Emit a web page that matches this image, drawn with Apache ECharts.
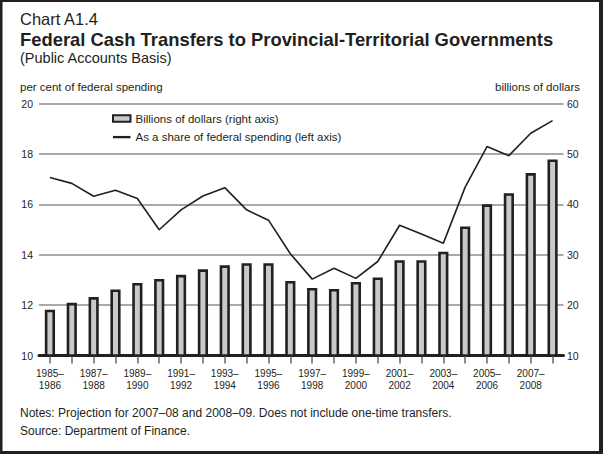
<!DOCTYPE html>
<html><head><meta charset="utf-8">
<script src="https://cdn.jsdelivr.net/npm/echarts@6/dist/echarts.min.js"></script>
<style>html,body{margin:0;padding:0;background:#fff}#c{width:603px;height:454px}</style>
</head><body><div id="c"></div>
<script>
const categories = ['1985–1986','1986–1987','1987–1988','1988–1989','1989–1990','1990–1991',
  '1991–1992','1992–1993','1993–1994','1994–1995','1995–1996','1996–1997',
  '1997–1998','1998–1999','1999–2000','2000–2001','2001–2002','2002–2003',
  '2003–2004','2004–2005','2005–2006','2006–2007','2007–2008','2008–2009'];
const billions = [19.1, 20.45, 21.6, 23.1, 24.4, 25.2, 26.0, 27.1, 27.9, 28.3, 28.3, 24.8,
  23.4, 23.2, 24.6, 25.5, 28.9, 28.9, 30.6, 35.6, 40.0, 42.2, 46.2, 48.9];
const sharePct = [17.06, 16.83, 16.32, 16.56, 16.23, 14.99, 15.78, 16.33, 16.66, 15.78, 15.37, 14.04,
  13.03, 13.46, 13.06, 13.73, 15.17, 14.82, 14.45, 16.68, 18.29, 17.93, 18.82, 19.32];
const leftTicks = [10, 12, 14, 16, 18, 20];
const rightTicks = [10, 20, 30, 40, 50, 60];
const barName = 'Billions of dollars (right axis)';
const lineName = 'As a share of federal spending (left axis)';

const INK = '#231f20';
const FONT = '"Liberation Sans", Arial, Helvetica, sans-serif';
const chart = echarts.init(document.getElementById('c'), null, {renderer: 'svg'});
function txt(x, y, text, size, opts) {
  return {type: 'text', x: x, y: y, silent: true,
    style: Object.assign({text: text, fill: INK, fontFamily: FONT, fontSize: size,
      verticalAlign: 'middle', align: 'left'}, (opts || {}))};
}
chart.setOption({
  animation: false,
  textStyle: {fontFamily: FONT, color: INK},
  grid: {left: 39, right: 39.5, top: 103.5, bottom: 98.5},
  legend: {
    orient: 'vertical', left: 112, top: 111.5, itemWidth: 17.5, itemHeight: 6.5, itemGap: 4.6,
    padding: 0,
    textStyle: {fontSize: 11.5, color: INK, fontFamily: FONT, lineHeight: 14},
    data: [
      {name: barName, icon: 'rect'},
      {name: lineName, icon: 'path://M0,0H18V2.4H0Z', itemStyle: {color: INK, borderWidth: 0}}
    ]
  },
  xAxis: {
    type: 'category', data: categories, boundaryGap: true,
    axisLine: {lineStyle: {color: INK, width: 3}},
    axisTick: {show: true, alignWithLabel: true, interval: 0, length: 8, lineStyle: {color: '#8c8c8c', width: 2}},
    axisLabel: {interval: 1, fontSize: 10, lineHeight: 12, margin: 12, color: INK,
      formatter: function (v) { return v.replace('–', '–\n'); }}
  },
  yAxis: [
    {type: 'value', position: 'left', min: leftTicks[0], max: leftTicks[leftTicks.length - 1], interval: 2,
      axisLine: {show: false}, axisTick: {show: false},
      splitLine: {show: true, lineStyle: {color: '#8c8c8c', width: 1.5}},
      axisLabel: {fontSize: 10.5, margin: 6, color: INK}},
    {type: 'value', position: 'right', min: rightTicks[0], max: rightTicks[rightTicks.length - 1], interval: 10,
      axisLine: {show: false}, axisTick: {show: false}, splitLine: {show: false},
      axisLabel: {fontSize: 10.5, margin: 3.5, color: INK}}
  ],
  series: [
    {name: barName, type: 'bar', yAxisIndex: 1, data: billions, barWidth: 10.2, clip: true,
      itemStyle: {color: '#c8c9ca', borderColor: INK, borderWidth: 2.6}},
    {name: lineName, type: 'line', yAxisIndex: 0, data: sharePct, symbol: 'none', showSymbol: false,
      itemStyle: {color: INK}, lineStyle: {color: INK, width: 1.6}}
  ],
  graphic: [
    {type: 'rect', shape: {x: 0, y: 0, width: 2.5, height: 454}, style: {fill: INK}, silent: true},
    {type: 'rect', shape: {x: 0, y: 0, width: 603, height: 2}, style: {fill: INK}, silent: true},
    {type: 'rect', shape: {x: 599, y: 0, width: 4, height: 454}, style: {fill: INK}, silent: true},
    {type: 'rect', shape: {x: 0, y: 451, width: 603, height: 3}, style: {fill: INK}, silent: true},
    txt(20, 18.5, 'Chart A1.4', 16.5),
    txt(20, 39, 'Federal Cash Transfers to Provincial-Territorial Governments', 18.4, {fontWeight: 'bold'}),
    txt(20, 58, '(Public Accounts Basis)', 14.5),
    txt(20, 86.5, 'per cent of federal spending', 11.5),
    txt(580, 86.5, 'billions of dollars', 11.5, {align: 'right'}),
    txt(20, 413, 'Notes: Projection for 2007–08 and 2008–09. Does not include one-time transfers.', 12),
    txt(20, 431, 'Source: Department of Finance.', 12)
  ]
});
</script></body></html>
